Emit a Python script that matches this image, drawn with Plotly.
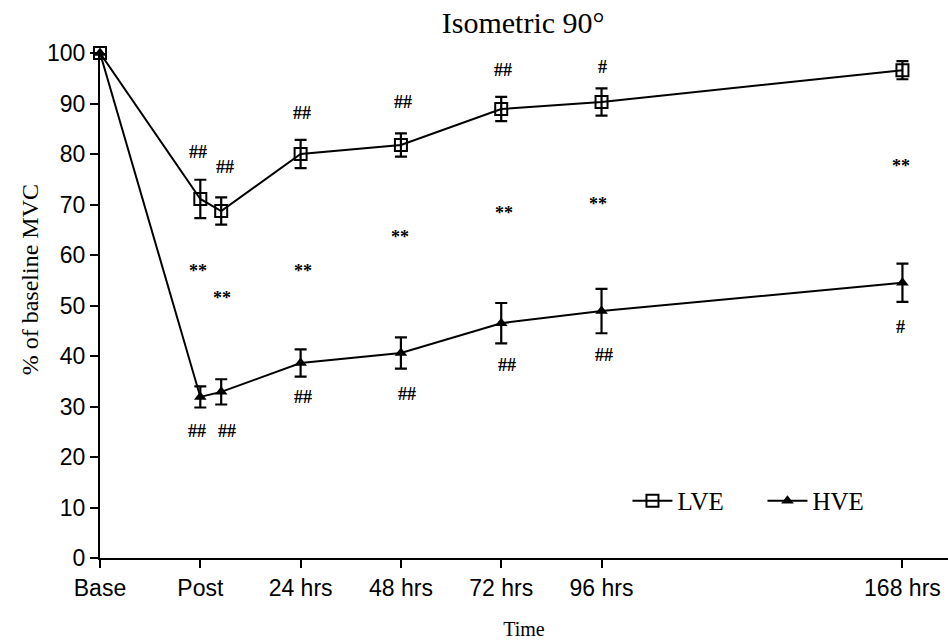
import plotly.graph_objects as go

# ---- data ----
tick_hours = [-24, 0, 24, 48, 72, 96, 168]
tick_labels = ["Base", "Post", "24 hrs", "48 hrs", "72 hrs", "96 hrs", "168 hrs"]

hours = [-24, 0, 5, 24, 48, 72, 96, 168]
lve = [100, 71.1, 68.7, 80.0, 81.8, 88.9, 90.3, 96.6]
lve_err = [0, 3.8, 2.7, 2.8, 2.3, 2.4, 2.7, 1.8]
hve = [100, 31.9, 32.9, 38.6, 40.6, 46.5, 48.9, 54.5]
hve_err = [0, 2.1, 2.5, 2.7, 3.1, 4.0, 4.4, 3.8]

# significance marks (x in hours, y in %)
lve_sig_x = [-0.5, 6, 24.4, 48.6, 72.5, 96.2]
lve_sig_y = [80.4, 77.4, 88.1, 90.3, 96.6, 97.2]
lve_sig_t = ["##", "##", "##", "##", "##", "#"]

star_x = [-0.5, 5.3, 24.6, 47.8, 72.7, 95.2, 167.7]
star_y = [56.8, 51.5, 56.8, 63.6, 68.3, 70.1, 77.6]
star_t = ["**"] * 7

hve_sig_x = [-0.7, 6.5, 24.6, 49.5, 73.4, 96.7, 167.5]
hve_sig_y = [25.1, 25.1, 31.9, 32.5, 38.2, 40.2, 45.7]
hve_sig_t = ["##", "##", "##", "##", "##", "##", "#"]

serif = "Liberation Serif, Times New Roman, serif"
sans = "Liberation Sans, Arial, sans-serif"

fig = go.Figure()
fig.add_trace(go.Scatter(
    x=hours, y=lve, name="LVE", mode="lines+markers",
    line=dict(color="black", width=2),
    marker=dict(symbol="square-open", size=12, color="black", line=dict(width=2)),
    error_y=dict(type="data", array=lve_err, color="black", thickness=2.2, width=6),
    cliponaxis=False,
))
fig.add_trace(go.Scatter(
    x=hours, y=hve, name="HVE", mode="lines+markers",
    line=dict(color="black", width=2),
    marker=dict(symbol="triangle-up", size=11, color="black"),
    error_y=dict(type="data", array=hve_err, color="black", thickness=2.2, width=6),
    cliponaxis=False,
))

anns = []
for xs, ys, ts in [(lve_sig_x, lve_sig_y, lve_sig_t), (star_x, star_y, star_t), (hve_sig_x, hve_sig_y, hve_sig_t)]:
    for x, y, t in zip(xs, ys, ts):
        anns.append(dict(x=x, y=y, text="<b>" + t + "</b>", showarrow=False,
                         font=dict(family=serif, size=18, color="black"),
                         xanchor="center", yanchor="middle"))

# y-axis title (placed slightly above the plot centre, as in the original)
anns.append(dict(x=-0.0825, y=0.55, xref="paper", yref="paper", text="% of baseline MVC",
                 textangle=-90, showarrow=False, xanchor="center", yanchor="middle",
                 font=dict(family=serif, size=24, color="black")))

fig.update_layout(
    width=948, height=643,
    margin=dict(l=100, r=0, t=53, b=85),
    paper_bgcolor="white", plot_bgcolor="white",
    title=dict(text="Isometric 90°", x=0.499, xref="paper", y=1 - 22 / 643, yanchor="middle",
               font=dict(family=serif, size=30, color="black")),
    showlegend=True,
    legend=dict(orientation="h", x=0.622, y=0.113, xanchor="left", yanchor="middle",
                font=dict(family=serif, size=25, color="black"), bgcolor="rgba(0,0,0,0)",
                itemwidth=40, entrywidth=80, entrywidthmode="pixels"),
    annotations=anns,
    xaxis=dict(range=[-24, 178.9], tickmode="array", tickvals=tick_hours, ticktext=tick_labels,
               showgrid=False, zeroline=False, showline=True, linecolor="black", linewidth=2,
               ticks="outside", ticklen=8, tickwidth=2, tickcolor="black",
               tickfont=dict(family=sans, size=23, color="black"),
               title=dict(text="Time", font=dict(family=serif, size=20, color="black"), standoff=22)),
    yaxis=dict(range=[0, 100], tickmode="array", tickvals=list(range(0, 101, 10)),
               showgrid=False, zeroline=False, showline=True, linecolor="black", linewidth=2,
               ticks="outside", ticklen=8, tickwidth=2, tickcolor="black",
               tickfont=dict(family=sans, size=23, color="black")),
)

fig.write_html("out.html")
